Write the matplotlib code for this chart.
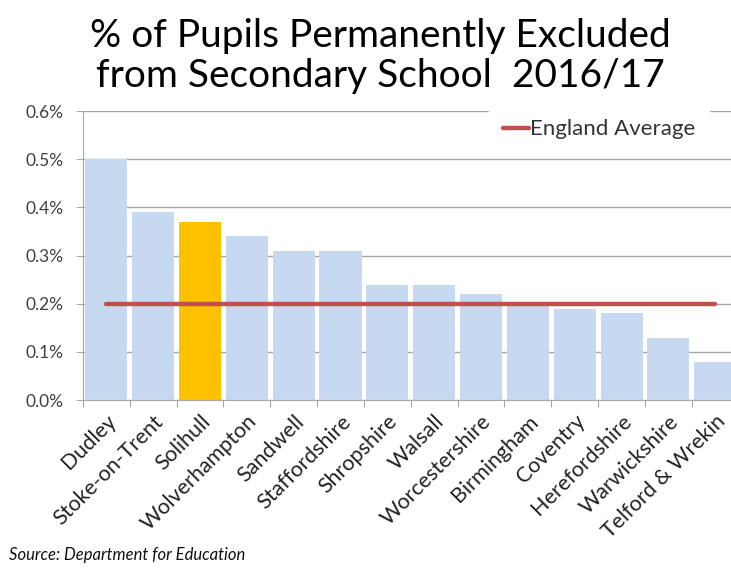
import matplotlib
matplotlib.use("Agg")
import matplotlib.pyplot as plt
import numpy as np

plt.rcParams['font.family'] = ['Lato', 'DejaVu Sans']

categories = ["Dudley", "Stoke-on-Trent", "Solihull", "Wolverhampton", "Sandwell",
              "Staffordshire", "Shropshire", "Walsall", "Worcestershire", "Birmingham",
              "Coventry", "Herefordshire", "Warwickshire", "Telford & Wrekin"]
values = [0.50, 0.39, 0.37, 0.34, 0.31, 0.31, 0.24, 0.24, 0.22, 0.20, 0.19, 0.18, 0.13, 0.08]
england_average = [0.20] * len(categories)
highlight = "Solihull"
yticks = [0.0, 0.1, 0.2, 0.3, 0.4, 0.5, 0.6]

fig = plt.figure(figsize=(7.31, 5.70), dpi=100)
ax = fig.add_axes([0.1135, 0.298, 0.897, 0.507])

x = np.arange(len(categories))
colors = ["#FFC000" if c == highlight else "#C6D9F0" for c in categories]
ax.bar(x, values, width=0.9, color=colors, zorder=2)
ax.plot(x, england_average, color="#C0504D", lw=3.2, solid_capstyle='round',
        zorder=3, label="England Average")

ax.set_xlim(-0.5, len(categories) - 0.5)
ax.set_ylim(0, 0.6)
ax.set_yticks(yticks)
ax.set_yticklabels([f"{v:.1f}%" for v in yticks], fontsize=12.5, color="#404040")
ax.yaxis.grid(True, color="#A6A6A6", lw=1, zorder=0)
ax.set_axisbelow(True)

ax.set_xticks(np.arange(len(categories) + 1) - 0.5, minor=False)
ax.set_xticklabels([])
ax.set_xticks(x, minor=True)
ax.set_xticklabels(categories, minor=True, rotation=45, ha='right',
                   rotation_mode='anchor', fontsize=15.5, color="#222222")
ax.tick_params(axis='x', which='minor', length=0, pad=8)
ax.tick_params(axis='x', which='major', length=5, color="#A6A6A6")
ax.tick_params(axis='y', length=5, color="#A6A6A6", pad=9)

for s in ['top', 'right']:
    ax.spines[s].set_visible(False)
for s in ['left', 'bottom']:
    ax.spines[s].set_color("#A6A6A6")

leg = ax.legend(loc='upper right', bbox_to_anchor=(720 / 731, (570 - 95) / 570),
                bbox_transform=fig.transFigure, frameon=True, fontsize=16,
                handlelength=1.2, handletextpad=0.05, borderpad=0.6)
leg.set_zorder(10)
leg.get_frame().set_edgecolor('white')
leg.get_frame().set_facecolor('white')
leg.get_frame().set_alpha(1)
for t in leg.get_texts():
    t.set_color("#333333")

fig.text(0.52, 0.937, "% of Pupils Permanently Excluded", ha='center', va='center',
         fontsize=28, color="#000000")
fig.text(0.52, 0.866, "from Secondary School  2016/17", ha='center', va='center',
         fontsize=28, color="#000000")
fig.text(0.012, 0.012, "Source: Department for Education", ha='left', va='bottom',
         fontsize=12, style='italic', color="#111111")

fig.savefig("out.png", dpi=100)
